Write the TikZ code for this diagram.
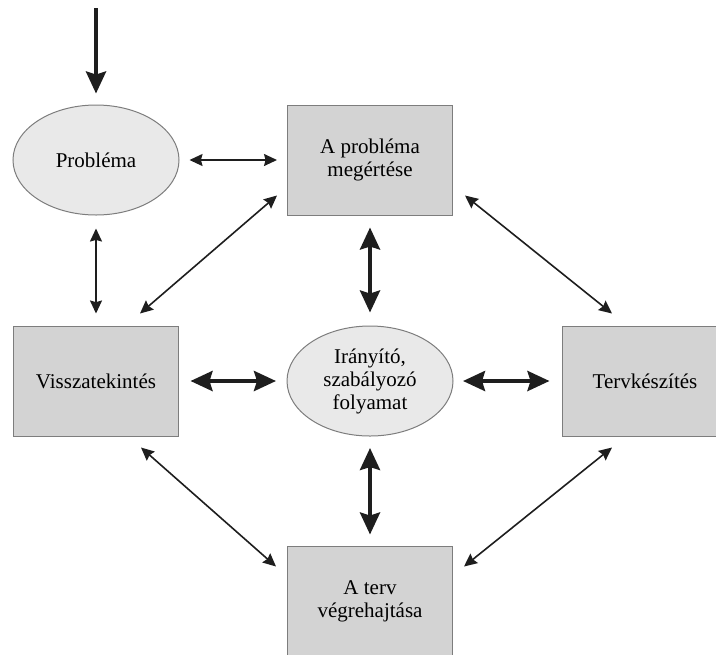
\documentclass[tikz,border=0pt]{standalone}
\usepackage{fontspec}
\setmainfont{Liberation Serif}
\usepackage{xcolor}
\usetikzlibrary{
  arrows.meta,
  shapes
}
\definecolor{boxgray}{RGB}{211,211,211}
\definecolor{ovalgray}{RGB}{233,233,233}
\definecolor{edgegray}{RGB}{125,125,125}
\definecolor{arrowblack}{RGB}{30,30,30}

\begin{document}
\begin{tikzpicture}[
  x=0.5pt, y=-0.5pt,
  every node/.style = {draw=edgegray, line width=0.5pt,
    align=center, inner sep=0pt,
    font=\fontsize{10.5}{11.5}\selectfont},
  stage/.style = {shape=rectangle, fill=boxgray,
    minimum width=82.5pt, minimum height=55pt},
  oval/.style = {shape=ellipse, fill=ovalgray,
    minimum width=83pt, minimum height=55pt},
  thinlink/.style = {draw=arrowblack, line width=0.8pt,
    >={Stealth[length=6.5pt,width=6pt,inset=0.8pt]}},
  thicklink/.style = {draw=arrowblack, line width=2pt,
    >={Stealth[length=11pt,width=10pt,inset=1.5pt]}}]
  \useasboundingbox (0,0) rectangle (716,654);
  \clip (0,0) rectangle (716,654);
  % nodes
  \node[oval]  (prob) at (96,160)  {Probléma};
  \node[stage] (meg)  at (370,160) {A probléma\\megértése};
  \node[stage] (visz) at (96,381)  {Visszatekintés};
  \node[oval]  (iran) at (370,381) {Irányító,\\szabályozó\\folyamat};
  \node[stage] (terv) at (645,381) {Tervkészítés};
  \node[stage] (vegr) at (370,601) {A terv\\végrehajtása};
  \coordinate (entry) at (96,8);
  % connections
  \draw[thicklink, ->, shorten >=5.5pt] (entry) -- (prob);
  \draw[thinlink, <->, shorten <=5pt, shorten >=5pt] (prob) -- (meg);
  \draw[thinlink, <->, shorten <=6.5pt, shorten >=6pt] (prob) -- (visz);
  \draw[thinlink, <->] ([shift={(44,-12)}]visz.north) -- ([shift={(-10,-20)}]meg.south west);
  \draw[thinlink, <->] ([shift={(12,-20)}]meg.south east) -- ([shift={(-33,-12)}]terv.north);
  \draw[thinlink, <->] ([shift={(45,11)}]visz.south) -- ([shift={(-11,21)}]vegr.north west);
  \draw[thinlink, <->] ([shift={(-33,11)}]terv.south) -- ([shift={(11,21)}]vegr.north east);
  \draw[thicklink, <->, shorten <=6pt, shorten >=6.5pt] (meg) -- (iran);
  \draw[thicklink, <->, shorten <=5.75pt, shorten >=5.25pt] (visz) -- (iran);
  \draw[thicklink, <->, shorten <=4.75pt, shorten >=6.25pt] (iran) -- (terv);
  \draw[thicklink, <->, shorten <=5.75pt, shorten >=5.5pt] (iran) -- (vegr);
\end{tikzpicture}
\end{document}
